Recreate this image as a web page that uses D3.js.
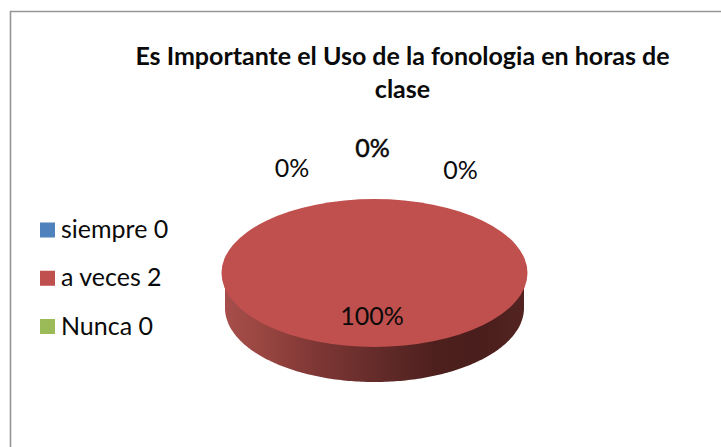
<!DOCTYPE html>
<html><head><meta charset="utf-8"><style>html,body{margin:0;padding:0;background:#fff}svg{display:block}text{font-family:Lato,"Open Sans",sans-serif;fill:#0a0a0a}</style>
<script src="https://cdn.jsdelivr.net/npm/d3@7"></script></head><body><div id="c"></div>
<script>
const categories=["siempre","a veces","Nunca"];
const values=[0,2,0];
const colors=["#4f81bd","#c0504d","#9bbb59"];
const titleLines=["Es Importante el Uso de la fonologia en horas de","clase"];
const W=721,H=447,cx=374.5,cy=273,rx=153,ry=74,depth=35,sideRx=149.5;
const svg=d3.select("#c").append("svg").attr("width",W).attr("height",H);
svg.append("rect").attr("width",W).attr("height",H).attr("fill","#fff");
const frame=d3.path();frame.moveTo(W,11.5);frame.lineTo(10.5,11.5);frame.lineTo(10.5,H);
svg.append("path").attr("d",frame.toString()).attr("fill","none").attr("stroke","#969696").attr("stroke-width",1.6);
svg.selectAll("text.t").data(titleLines).join("text").attr("class","t").attr("x",402.5).attr("y",(d,i)=>65+i*33)
 .attr("text-anchor","middle").attr("font-size",25).attr("font-weight",700).text(d=>d);
const grad=svg.append("defs").append("linearGradient").attr("id","side").attr("gradientUnits","userSpaceOnUse")
 .attr("x1",cx-sideRx).attr("x2",cx+sideRx).attr("y1",0).attr("y2",0);
[[0,"#a64e4b"],[.15,"#96443f"],[.3,"#7f3735"],[.5,"#652c2a"],[.7,"#4d201e"],[.85,"#4a1e1c"],[1,"#522321"]].forEach(s=>grad.append("stop").attr("offset",s[0]).attr("stop-color",s[1]));
const side=d3.path();
side.moveTo(cx-sideRx,cy);
d3.range(0,181).forEach(a=>{const t=a*Math.PI/180;side.lineTo(cx-sideRx*Math.cos(t),cy+depth+ry*Math.sin(t));});
side.lineTo(cx+sideRx,cy);side.closePath();
svg.append("path").attr("d",side.toString()).attr("fill","url(#side)");
const pie=d3.pie().sort(null)(values);
const arc=d3.arc().innerRadius(0).outerRadius(rx);
svg.append("g").attr("transform",`translate(${cx},${cy}) scale(1,${ry/rx})`).selectAll("path").data(pie).join("path")
 .attr("d",arc).attr("fill",(d,i)=>colors[i]);
const total=d3.sum(values);
const fmt=d3.format(".0%");
const pct=[{v:values[2],x:292,y:177,b:0},{v:values[0],x:372.5,y:157,b:.5},{v:values[2],x:460.5,y:179,b:0},{v:values[1],x:372,y:324.5,b:0}];
svg.selectAll("text.p").data(pct).join("text").attr("class","p").attr("x",d=>d.x).attr("y",d=>d.y).attr("text-anchor","middle")
 .attr("font-size",25).attr("stroke","#0a0a0a").attr("stroke-width",d=>d.b).text(d=>fmt(d.v/total));
const y=d3.scalePoint().domain(categories).range([230.5,327]);
const leg=svg.selectAll("g.l").data(categories).join("g").attr("class","l").attr("transform",d=>`translate(40,${y(d)})`);
leg.append("rect").attr("x",0).attr("y",-8).attr("width",15).attr("height",15).attr("fill",(d,i)=>colors[i]);
leg.append("text").attr("x",21).attr("y",7.5).attr("font-size",25).text((d,i)=>d+" "+values[i]);
</script></body></html>
